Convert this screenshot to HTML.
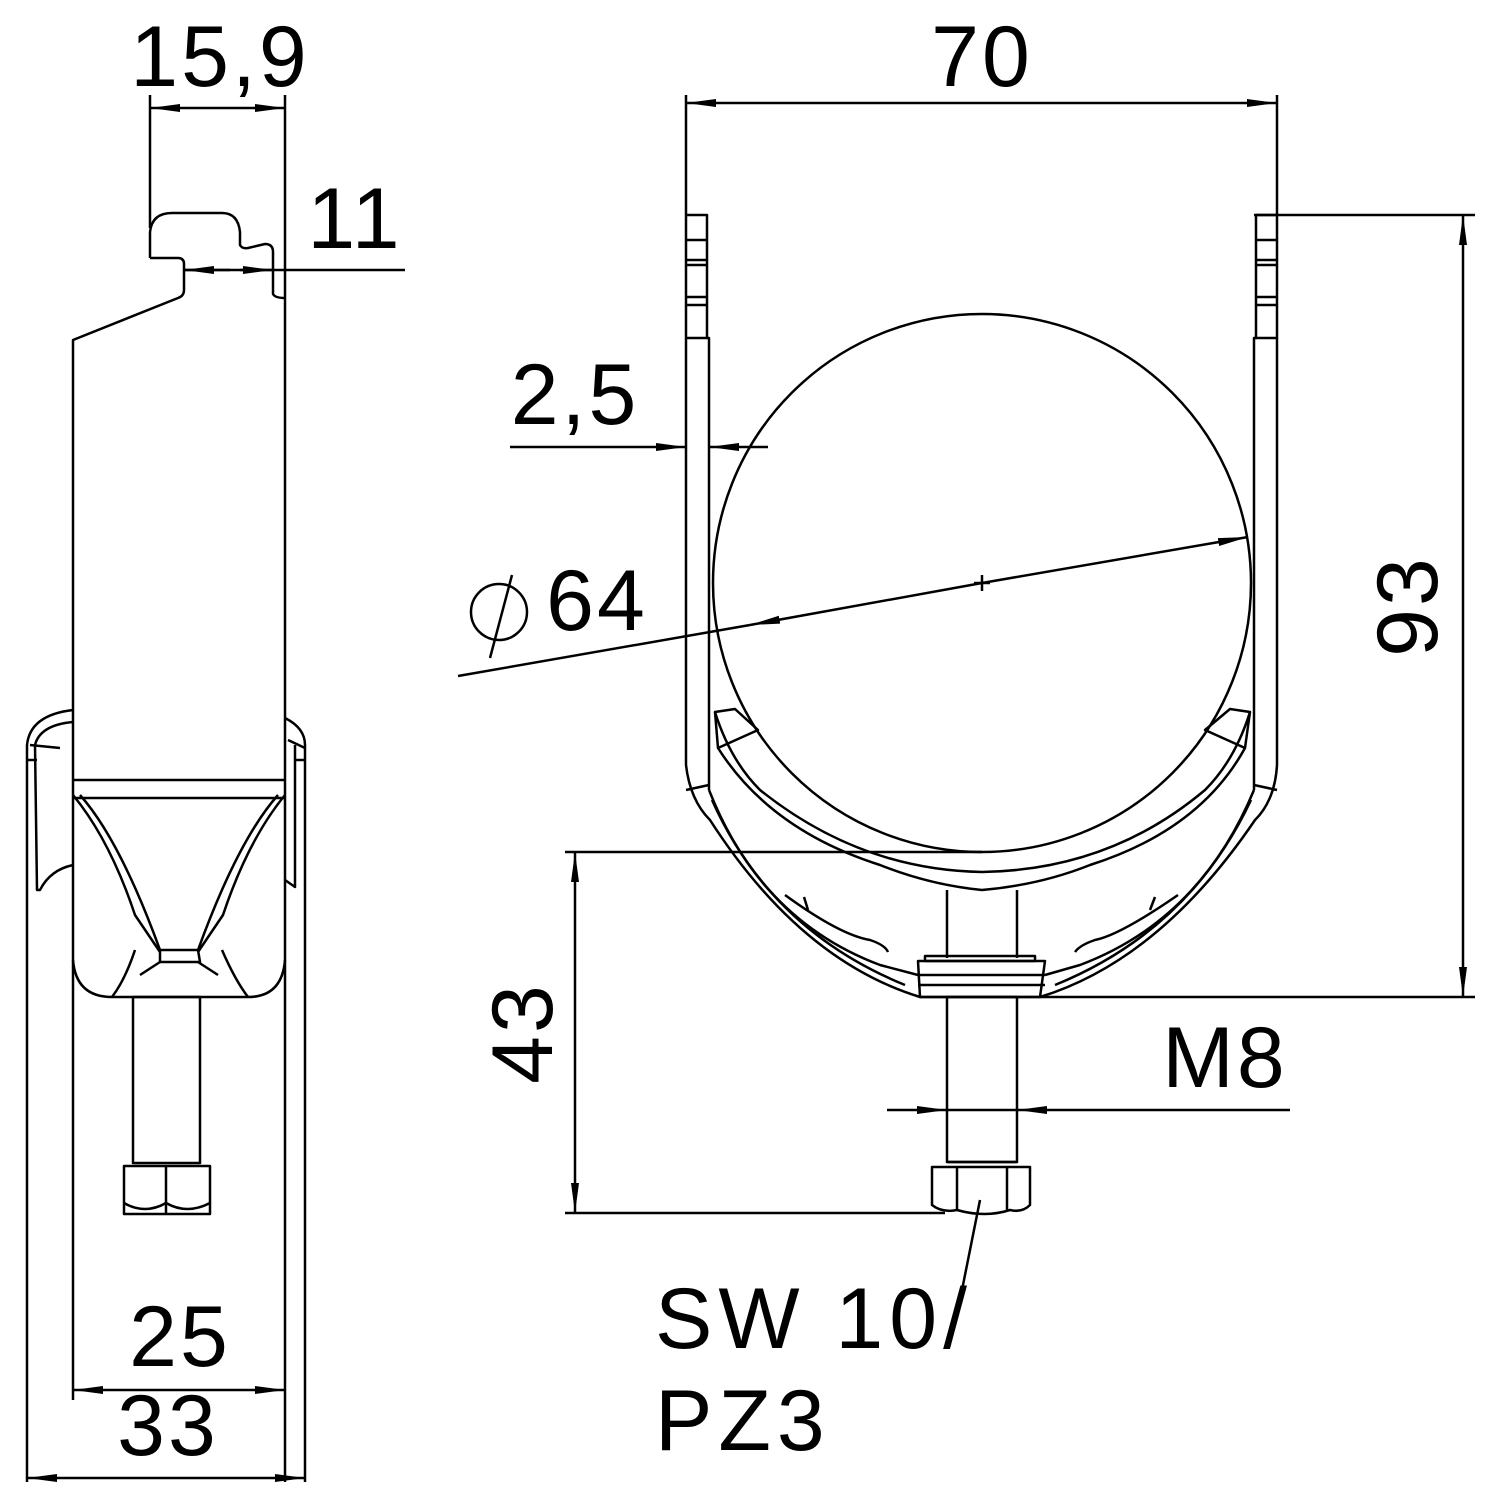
<!DOCTYPE html>
<html><head><meta charset="utf-8"><style>html,body{margin:0;padding:0;background:#fff}svg{display:block}text{font-family:"Liberation Sans",sans-serif;fill:#000}</style></head><body>
<svg width="1500" height="1500" viewBox="0 0 1500 1500" xmlns="http://www.w3.org/2000/svg">
<defs>
<marker id="a" viewBox="0 0 30 10" refX="30" refY="5" markerWidth="30" markerHeight="10" markerUnits="userSpaceOnUse" orient="auto-start-reverse"><path d="M0,1 L30,5 L0,9 Z" fill="#000"/></marker>
</defs>
<g fill="none" stroke="#000" stroke-width="2.5" stroke-linejoin="round">
<!-- LEFT VIEW -->
<line x1="150" y1="95" x2="150" y2="228"/>
<line x1="285" y1="95" x2="285" y2="1482"/>
<line x1="150" y1="108" x2="285" y2="108" marker-start="url(#a)" marker-end="url(#a)"/>
<path d="M150,258 L150,232 Q152,213 172,213 L222,213 Q238,213 240,232 L240,245 Q242,249 248,248 L265,244 Q273,244 273,252 L273,294 Q275,298 285,298"/>
<path d="M150,258 L178,258 Q184,258 184,264 L184,290 Q184,296 178,298 L73,340 L73,975"/>
<line x1="184" y1="270" x2="405" y2="270"/>
<line x1="230" y1="270" x2="184" y2="270" marker-end="url(#a)"/>
<line x1="240" y1="270" x2="273" y2="270" marker-end="url(#a)"/>
<line x1="73" y1="780" x2="285" y2="780"/>
<line x1="73" y1="798" x2="285" y2="798"/>
<path d="M73,960 Q76,997 112,997 L248,997 Q282,997 285,960"/>
<path d="M73,795 Q110,840 135,915 L160,952"/><path d="M80,795 Q120,840 160,950"/>
<path d="M285,795 Q248,840 223,915 L198,952"/><path d="M278,795 Q238,840 198,950"/>
<path d="M160,950 L198,950 L200,962 L160,962 Z"/>
<path d="M135,950 Q125,980 112,997"/><path d="M222,950 Q235,980 248,997"/>
<path d="M140,975 L160,962"/><path d="M218,975 L198,962"/>
<!-- left caps -->
<path d="M73,710 Q30,715 27,745 L27,1482"/>
<path d="M73,722 Q40,725 35,745 L37,890 L40,890 Q50,870 73,865"/>
<path d="M30,745 L60,748"/><path d="M27,760 L37,760"/>
<path d="M285,718 Q305,728 305,745 L305,1482"/>
<path d="M295,745 L295,887 L285,880"/><path d="M288,740 L305,748"/><path d="M295,760 L305,760"/>
<!-- left bolt -->
<rect x="133" y="997" width="67" height="166"/>
<rect x="124" y="1166" width="86" height="48"/>
<line x1="166" y1="1166" x2="166" y2="1214"/>
<path d="M124,1203 Q145,1215 166,1203 Q187,1215 210,1203"/>
<!-- dims 25 / 33 -->
<line x1="73" y1="975" x2="73" y2="1400"/>
<line x1="73" y1="1390" x2="285" y2="1390" marker-start="url(#a)" marker-end="url(#a)"/>
<line x1="27" y1="1478" x2="305" y2="1478" marker-start="url(#a)" marker-end="url(#a)"/>

<!-- RIGHT VIEW -->
<line x1="686" y1="95" x2="686" y2="215"/><line x1="1277" y1="95" x2="1277" y2="215"/>
<line x1="686" y1="103" x2="1277" y2="103" marker-start="url(#a)" marker-end="url(#a)"/>
<path d="M686,215 L686,765 Q690,800 710,820 Q800,960 920,997 L1040,997 Q1160,960 1255,820 Q1275,800 1277,765 L1277,215"/>
<path d="M686,215 L707,215 L707,338 L709,338 L709,790"/>
<path d="M1277,215 L1256,215 L1256,338 L1254,338 L1254,790"/>
<path d="M686,240 L707,240 M686,260 L707,260 M686,265 L707,265 M686,297 L707,297 M686,305 L707,305 M686,338 L707,338"/>
<path d="M1277,240 L1256,240 M1277,260 L1256,260 M1277,265 L1256,265 M1277,297 L1256,297 M1277,305 L1256,305 M1277,338 L1256,338"/>
<line x1="686" y1="790" x2="709" y2="785"/><line x1="1277" y1="790" x2="1254" y2="785"/>
<path d="M709,790 Q760,920 880,965 L918,975"/>
<path d="M712,800 Q770,930 905,985"/>
<path d="M1254,790 Q1200,920 1080,965 L1045,975"/>
<path d="M1251,800 Q1190,930 1055,985"/>
<path d="M715,712 Q730,760 760,790 Q860,870 982,872 Q1110,870 1205,790 Q1235,760 1250,712"/>
<path d="M718,748 Q770,830 880,865 Q930,885 982,890 Q1040,885 1090,865 Q1200,830 1245,748"/>
<path d="M715,712 L735,709 L758,730 L718,748 Z"/><path d="M1250,712 L1230,709 L1205,730 L1245,748 Z"/>
<path d="M785,895 Q840,935 870,940 Q885,945 888,952"/><path d="M1178,895 Q1120,935 1095,940 Q1080,945 1075,952"/>
<line x1="804" y1="897" x2="808" y2="910"/><line x1="1155" y1="897" x2="1150" y2="910"/>
<circle cx="982" cy="583" r="269"/>
<line x1="974" y1="583" x2="990" y2="583"/><line x1="982" y1="575" x2="982" y2="591"/>
<!-- bolt -->
<line x1="947" y1="890" x2="947" y2="958"/><line x1="1017" y1="890" x2="1017" y2="958"/>
<rect x="925" y="956" width="110" height="5"/>
<path d="M918,961 L1045,961 L1040,997 L920,997 Z"/>
<line x1="918" y1="975" x2="1045" y2="975"/><line x1="918" y1="985" x2="1045" y2="985"/>
<rect x="947" y="997" width="70" height="165"/>
<path d="M932,1167 L1030,1167 L1030,1205 Q1022,1213 1010,1210 Q985,1218 957,1210 Q942,1213 932,1205 Z"/>
<line x1="947" y1="1162" x2="1017" y2="1162"/>
<line x1="957" y1="1167" x2="957" y2="1210"/><line x1="1007" y1="1167" x2="1007" y2="1210"/>
<line x1="980" y1="1200" x2="958" y2="1310"/>
<!-- M8 -->
<line x1="887" y1="1110" x2="947" y2="1110" marker-end="url(#a)"/>
<line x1="1290" y1="1110" x2="1017" y2="1110" marker-end="url(#a)"/>
<line x1="947" y1="1110" x2="1017" y2="1110"/>
<!-- 93 -->
<line x1="1254" y1="215" x2="1475" y2="215"/><line x1="1040" y1="997" x2="1475" y2="997"/>
<line x1="1463" y1="215" x2="1463" y2="997" marker-start="url(#a)" marker-end="url(#a)"/>
<!-- 43 -->
<line x1="565" y1="852" x2="982" y2="852"/><line x1="565" y1="1213" x2="945" y2="1213"/>
<line x1="575" y1="852" x2="575" y2="1213" marker-start="url(#a)" marker-end="url(#a)"/>
<!-- 2,5 -->
<line x1="510" y1="447" x2="686" y2="447" marker-end="url(#a)"/>
<line x1="768" y1="447" x2="709" y2="447" marker-end="url(#a)"/>
<!-- diameter -->
<line x1="458" y1="676" x2="750" y2="625"/>
<line x1="982" y1="583" x2="750" y2="625" marker-end="url(#a)"/>
<line x1="982" y1="583" x2="1248" y2="537" marker-end="url(#a)"/>
<circle cx="499" cy="612" r="28"/>
<line x1="512" y1="575" x2="490" y2="658"/>
</g>
<g font-size="86" letter-spacing="3">
<text x="220" y="86" text-anchor="middle">15,9</text>
<text x="355" y="248" text-anchor="middle">11</text>
<text x="180" y="1366" text-anchor="middle">25</text>
<text x="168" y="1455" text-anchor="middle">33</text>
<text x="982" y="86" text-anchor="middle">70</text>
<text x="575" y="424" text-anchor="middle">2,5</text>
<text x="597" y="630" text-anchor="middle">64</text>
<text x="1225" y="1087" text-anchor="middle">M8</text>
<text transform="translate(1437,606) rotate(-90)" text-anchor="middle">93</text>
<text transform="translate(552,1033) rotate(-90)" text-anchor="middle">43</text>
<text x="655" y="1348" letter-spacing="6">SW 10/</text>
<text x="655" y="1450" letter-spacing="6">PZ3</text>
</g>
</svg>
</body></html>
